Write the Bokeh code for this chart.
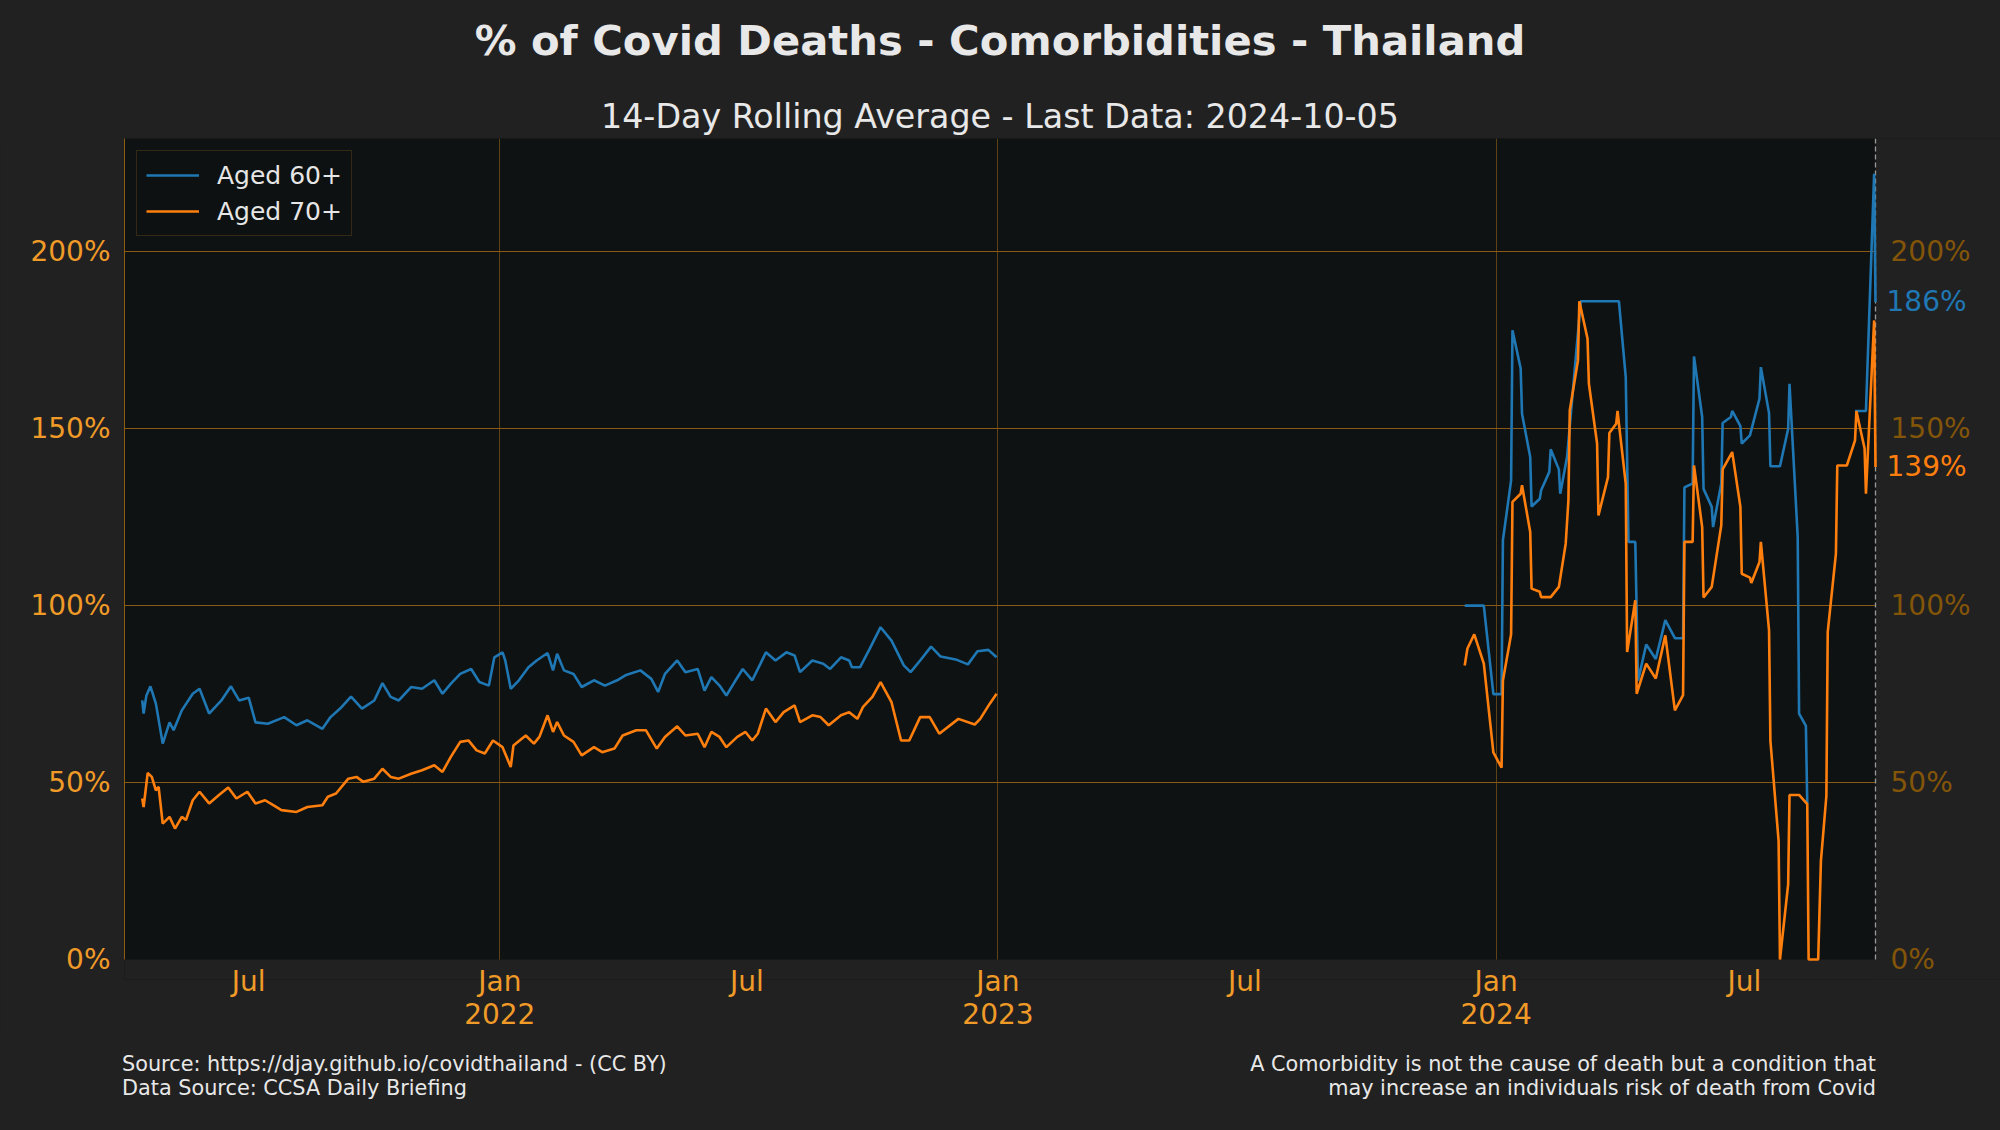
import numpy as np
import pandas as pd
from bokeh.plotting import figure
from bokeh.layouts import column
from bokeh.models import (Range1d, LinearAxis, FixedTicker, CustomJSTickFormatter,
                          PrintfTickFormatter, Legend, LegendItem, Div, Label,
                          BoxAnnotation)
from bokeh.embed import file_html
from bokeh.resources import INLINE

# ---------------- data ----------------
aged60_a_dates = ["2021-04-14", "2021-04-15", "2021-04-17", "2021-04-20", "2021-04-24", "2021-04-29",
    "2021-05-04", "2021-05-07", "2021-05-13", "2021-05-21", "2021-05-26", "2021-06-02", "2021-06-11",
    "2021-06-18", "2021-06-24", "2021-07-01", "2021-07-06", "2021-07-15", "2021-07-27", "2021-08-05",
    "2021-08-13", "2021-08-24", "2021-08-30", "2021-09-07", "2021-09-14", "2021-09-22", "2021-10-01",
    "2021-10-07", "2021-10-13", "2021-10-19", "2021-10-28", "2021-11-05", "2021-11-14", "2021-11-20",
    "2021-11-26", "2021-12-03", "2021-12-11", "2021-12-17", "2021-12-24", "2021-12-28", "2022-01-03",
    "2022-01-05", "2022-01-09", "2022-01-15", "2022-01-22", "2022-01-28", "2022-02-05", "2022-02-09",
    "2022-02-12", "2022-02-17", "2022-02-24", "2022-03-02", "2022-03-11", "2022-03-19", "2022-03-28",
    "2022-04-03", "2022-04-14", "2022-04-22", "2022-04-27", "2022-05-02", "2022-05-11", "2022-05-17",
    "2022-05-26", "2022-05-31", "2022-06-05", "2022-06-11", "2022-06-16", "2022-06-22", "2022-06-28",
    "2022-07-05", "2022-07-11", "2022-07-15", "2022-07-22", "2022-07-30", "2022-08-05", "2022-08-09",
    "2022-08-18", "2022-08-26", "2022-08-31", "2022-09-08", "2022-09-14", "2022-09-16", "2022-09-22",
    "2022-09-29", "2022-10-07", "2022-10-15", "2022-10-24", "2022-10-29", "2022-11-05", "2022-11-13",
    "2022-11-20", "2022-12-01", "2022-12-10", "2022-12-17", "2022-12-25", "2022-12-31"]
aged60_a_values = [73.2, 69.5, 74.5, 77.2, 72.3, 61.0, 67.0, 64.8, 70.4, 75.1, 76.5, 69.5, 73.2,
    77.2, 73.2, 74.0, 67.0, 66.6, 68.5, 66.2, 67.6, 65.2, 68.5, 71.3, 74.3, 70.9, 73.2,
    78.1, 74.2, 73.2, 77.0, 76.5, 78.9, 75.1, 77.9, 80.7, 82.1, 78.4, 77.4, 85.4, 86.8,
    84.5, 76.5, 78.9, 82.6, 84.5, 86.6, 81.7, 86.4, 81.7, 80.7, 77.0, 78.9, 77.4, 78.9,
    80.3, 81.7, 79.3, 75.6, 80.7, 84.5, 81.2, 82.1, 76.0, 79.8, 77.4, 74.6, 78.4, 82.1,
    78.9, 83.6, 86.8, 84.5, 86.8, 85.9, 81.2, 84.5, 83.6, 82.1, 85.4, 84.5, 82.6, 82.6,
    87.8, 93.9, 90.1, 83.1, 81.2, 84.5, 88.4, 85.6, 84.8, 83.4, 87.1, 87.5, 85.4]

aged60_b_dates = ["2023-12-09", "2023-12-23", "2023-12-30", "2024-01-05", "2024-01-06", "2024-01-12",
    "2024-01-13", "2024-01-19", "2024-01-20", "2024-01-26", "2024-01-27", "2024-02-02", "2024-02-03",
    "2024-02-09", "2024-02-10", "2024-02-16", "2024-02-17", "2024-02-22", "2024-03-03", "2024-03-31",
    "2024-04-05", "2024-04-07", "2024-04-12", "2024-04-14", "2024-04-20", "2024-04-27", "2024-05-04",
    "2024-05-11", "2024-05-17", "2024-05-18", "2024-05-24", "2024-05-25", "2024-05-31", "2024-06-01",
    "2024-06-07", "2024-06-08", "2024-06-14", "2024-06-15", "2024-06-21", "2024-06-22", "2024-06-28",
    "2024-06-29", "2024-07-05", "2024-07-12", "2024-07-13", "2024-07-19", "2024-07-20", "2024-07-27",
    "2024-08-02", "2024-08-03", "2024-08-09", "2024-08-10", "2024-08-15", "2024-08-16"]
aged60_b_values = [100.0, 100.0, 75.0, 75.0, 118.5, 135.4, 177.8, 167.0, 154.2, 142.0, 128.0, 130.2,
    132.6, 137.8, 144.2, 138.5, 131.6, 142.0, 186.0, 186.0, 164.6, 118.0, 118.0, 78.8, 89.0, 84.9,
    95.9, 90.8, 90.8, 133.4, 134.5, 170.4, 153.3, 133.0, 127.9, 122.2, 134.5, 151.6, 153.3, 155.0,
    150.7, 145.8, 148.1, 158.5, 167.4, 154.4, 139.4, 139.4, 150.0, 162.7, 119.4, 69.5, 66.0, 43.9]

aged60_c_dates = ["2024-09-20", "2024-09-28", "2024-10-04", "2024-10-05"]
aged60_c_values = [155.0, 155.0, 222.0, 185.8]

aged70_a_dates = ["2021-04-14", "2021-04-15", "2021-04-18", "2021-04-21", "2021-04-24", "2021-04-26",
    "2021-04-29", "2021-05-04", "2021-05-08", "2021-05-13", "2021-05-16", "2021-05-21", "2021-05-26",
    "2021-06-02", "2021-06-09", "2021-06-16", "2021-06-22", "2021-06-30", "2021-07-06", "2021-07-13",
    "2021-07-19", "2021-07-25", "2021-08-05", "2021-08-13", "2021-08-24", "2021-08-28", "2021-09-03",
    "2021-09-12", "2021-09-18", "2021-09-23", "2021-10-01", "2021-10-07", "2021-10-13", "2021-10-19",
    "2021-10-28", "2021-11-05", "2021-11-14", "2021-11-20", "2021-11-26", "2021-12-03", "2021-12-09",
    "2021-12-15", "2021-12-21", "2021-12-27", "2022-01-03", "2022-01-09", "2022-01-11", "2022-01-20",
    "2022-01-26", "2022-01-30", "2022-02-05", "2022-02-09", "2022-02-12", "2022-02-17", "2022-02-24",
    "2022-03-02", "2022-03-11", "2022-03-17", "2022-03-26", "2022-04-01", "2022-04-11", "2022-04-18",
    "2022-04-26", "2022-05-02", "2022-05-11", "2022-05-17", "2022-05-26", "2022-05-31", "2022-06-05",
    "2022-06-11", "2022-06-16", "2022-06-24", "2022-06-30", "2022-07-05", "2022-07-09", "2022-07-15",
    "2022-07-22", "2022-07-28", "2022-08-05", "2022-08-09", "2022-08-18", "2022-08-24", "2022-08-30",
    "2022-09-08", "2022-09-14", "2022-09-20", "2022-09-24", "2022-10-01", "2022-10-07", "2022-10-15",
    "2022-10-22", "2022-10-28", "2022-11-05", "2022-11-12", "2022-11-19", "2022-12-03", "2022-12-15",
    "2022-12-19", "2022-12-26", "2022-12-31"]
aged70_a_values = [45.5, 43.1, 52.7, 51.6, 47.8, 48.8, 38.4, 40.3, 37.0, 40.3, 39.4, 45.0, 47.4,
    44.1, 46.4, 48.6, 45.5, 47.4, 44.1, 45.0, 43.6, 42.2, 41.7, 43.1, 43.6, 46.0, 46.9,
    51.1, 51.6, 50.2, 51.1, 53.9, 51.6, 51.1, 52.5, 53.5, 54.9, 53.0, 57.2, 61.5, 61.9,
    59.1, 58.2, 61.9, 60.0, 54.4, 60.5, 63.3, 61.0, 62.9, 69.0, 64.3, 67.1, 63.3, 61.5,
    57.7, 60.0, 58.6, 59.6, 63.3, 64.8, 64.8, 59.6, 62.9, 65.9, 63.3, 63.8, 60.0, 64.3,
    62.9, 60.0, 62.9, 64.3, 61.9, 63.8, 70.9, 67.1, 69.9, 71.8, 67.1, 69.0, 68.5, 66.2,
    69.0, 69.9, 68.0, 71.3, 74.2, 78.4, 72.7, 61.9, 61.9, 68.5, 68.5, 63.8, 68.0, 66.4,
    68.0, 72.3, 75.1]

aged70_b_dates = ["2023-12-09", "2023-12-11", "2023-12-16", "2023-12-23", "2023-12-30", "2024-01-05",
    "2024-01-06", "2024-01-12", "2024-01-13", "2024-01-19", "2024-01-20", "2024-01-26", "2024-01-27",
    "2024-02-02", "2024-02-03", "2024-02-10", "2024-02-16", "2024-02-21", "2024-02-23", "2024-02-24",
    "2024-03-01", "2024-03-02", "2024-03-08", "2024-03-09", "2024-03-15", "2024-03-16", "2024-03-23",
    "2024-03-24", "2024-03-29", "2024-03-30", "2024-03-31", "2024-04-05", "2024-04-06", "2024-04-12",
    "2024-04-13", "2024-04-20", "2024-04-27", "2024-05-04", "2024-05-11", "2024-05-17", "2024-05-18",
    "2024-05-24", "2024-05-25", "2024-05-31", "2024-06-01", "2024-06-07", "2024-06-14", "2024-06-15",
    "2024-06-22", "2024-06-28", "2024-06-29", "2024-07-05", "2024-07-06", "2024-07-12", "2024-07-13",
    "2024-07-19", "2024-07-20", "2024-07-26", "2024-07-27", "2024-08-02", "2024-08-03", "2024-08-10",
    "2024-08-16", "2024-08-17", "2024-08-24", "2024-08-26", "2024-08-30", "2024-08-31", "2024-09-06",
    "2024-09-07", "2024-09-14", "2024-09-20", "2024-09-21", "2024-09-27", "2024-09-28", "2024-10-04",
    "2024-10-05"]
aged70_b_values = [83.1, 87.9, 91.9, 83.6, 58.5, 54.2, 78.8, 91.9, 129.3, 131.6, 134.0, 120.8, 104.8,
    103.9, 102.4, 102.4, 105.3, 117.5, 129.8, 155.2, 169.3, 186.0, 175.4, 162.7, 145.8, 125.5, 136.3,
    148.8, 151.4, 155.0, 151.4, 134.5, 86.9, 101.5, 75.1, 83.6, 79.4, 91.6, 70.4, 74.7, 118.0,
    118.0, 139.6, 122.2, 102.3, 105.3, 122.7, 138.5, 143.4, 127.9, 109.0, 107.9, 106.4, 112.3, 118.0,
    93.0, 61.8, 33.5, 0.0, 21.2, 46.5, 46.5, 43.9, 0.0, 0.0, 27.8, 46.2, 92.6, 114.7,
    139.6, 139.6, 146.7, 155.0, 144.4, 131.6, 180.6, 139.2]

x_tick_dates = ["2021-07-01", "2022-01-01", "2022-07-01", "2023-01-01", "2023-07-01", "2024-01-01", "2024-07-01"]
x_tick_labels = ["Jul", "Jan\n2022", "Jul", "Jan\n2023", "Jul", "Jan\n2024", "Jul"]
x_grid_dates = ["2022-01-01", "2023-01-01", "2024-01-01"]
y_ticks = [0, 50, 100, 150, 200]

x_start, x_end = "2021-04-01", "2024-10-05"
y_top = 232

series_labels = ["Aged 60+", "Aged 70+"]
series_colors = ["#1f77b4", "#ff7f0e"]

TITLE = "% of Covid Deaths - Comorbidities - Thailand"
SUBTITLE = "14-Day Rolling Average - Last Data: 2024-10-05"
FOOT_LEFT = ["Source: https://djay.github.io/covidthailand - (CC BY)", "Data Source: CCSA Daily Briefing"]
FOOT_RIGHT = ["A Comorbidity is not the cause of death but a condition that",
              "may increase an individuals risk of death from Covid"]


def join_segments(segments):
    xs, ys = [], []
    for i, (d, v) in enumerate(segments):
        if i > 0:
            xs.append(pd.Timestamp(d[0]) - pd.Timedelta(hours=12))
            ys.append(np.nan)
        xs.extend(pd.to_datetime(d))
        ys.extend(v)
    return xs, ys


x60, y60 = join_segments([(aged60_a_dates, aged60_a_values), (aged60_b_dates, aged60_b_values),
                          (aged60_c_dates, aged60_c_values)])
x70, y70 = join_segments([(aged70_a_dates, aged70_a_values), (aged70_b_dates, aged70_b_values)])

# ---------------- layout geometry ----------------
FONT = "DejaVu Sans"
PAGE_W, PAGE_H = 2000, 1130
HEAD_H, FOOT_H = 138, 91
W, H = PAGE_W, PAGE_H - HEAD_H - FOOT_H
ML, MT = 124, 0
DATA_RIGHT = 1875   # page x of the last date; the frame runs on to the page edge for the right labels
PLOT_H = 821        # height of the 0..y_top plot area
PAD_B = 20          # extra frame below 0 so the bottom right-hand label is not clipped
MB = H - MT - PLOT_H - PAD_B
BG = "#212121"
PLOT_BG = "#0e1212"

t0, t1 = pd.Timestamp(x_start), pd.Timestamp(x_end)
ext = (t1 - t0) * ((W - DATA_RIGHT) / (DATA_RIGHT - ML))
y_lo = -PAD_B * y_top / PLOT_H
p = figure(width=W, height=H, x_axis_type="datetime", output_backend="svg", toolbar_location=None,
           x_range=Range1d(t0, t1 + ext), y_range=Range1d(y_lo, y_top),
           min_border_left=ML, min_border_right=0, min_border_top=MT, min_border_bottom=MB,
           background_fill_color=PLOT_BG, border_fill_color=BG, outline_line_color=None)

last_ms = t1.value / 1e6
far_ms = (t1 + 3 * ext).value / 1e6
first_ms = (t0 - ext).value / 1e6
# page-coloured strips: after the last date and below 0 (drawn past the frame edges, clipped there)
p.add_layout(BoxAnnotation(left=last_ms, right=far_ms, bottom=3 * y_lo, top=2 * y_top,
                           fill_color=BG, fill_alpha=1.0, line_color=None, level="underlay"))
p.add_layout(BoxAnnotation(left=first_ms, right=far_ms, bottom=3 * y_lo, top=0,
                           fill_color=BG, fill_alpha=1.0, line_color=None, level="underlay"))

# last data marker
p.segment(x0=[t1], y0=[0], x1=[t1], y1=[y_top], line_color="#9a9a9a", line_dash="5 3", line_width=1.3)

r60 = p.line(x=x60, y=y60, line_color=series_colors[0], line_width=2.6)
r70 = p.line(x=x70, y=y70, line_color=series_colors[1], line_width=2.6)

# x axis
tick_ms = [pd.Timestamp(d).value / 1e6 for d in x_tick_dates]
xa = p.xaxis[0]
xa.ticker = FixedTicker(ticks=tick_ms)
xa.formatter = CustomJSTickFormatter(args=dict(tvals=tick_ms, tlabels=x_tick_labels), code="""
    let best = 0, bd = Infinity;
    for (let i = 0; i < tvals.length; i++) {
        const dd = Math.abs(tvals[i] - tick);
        if (dd < bd) { bd = dd; best = i; }
    }
    return tlabels[best];
""")
xa.major_label_text_font = FONT
xa.major_label_text_font_size = "28px"
xa.major_label_text_color = "#f09a28"
xa.major_label_text_line_height = 1.0
xa.major_label_standoff = -1 - PAD_B
xa.major_tick_line_color = None
xa.minor_tick_line_color = None
xa.axis_line_color = None

# left y axis
ya = p.yaxis[0]
ya.ticker = FixedTicker(ticks=y_ticks)
ya.formatter = PrintfTickFormatter(format="%d%%")
ya.bounds = (0, y_top)
ya.major_label_text_font = FONT
ya.major_label_text_font_size = "28px"
ya.major_label_text_color = "#f09a28"
ya.major_label_standoff = 8
ya.major_tick_line_color = None
ya.minor_tick_line_color = None
ya.axis_line_color = "#8c5c12"

# right y axis, pinned at the last date
yr = LinearAxis(fixed_location=last_ms, ticker=FixedTicker(ticks=y_ticks),
                formatter=PrintfTickFormatter(format="%d%%"),
                major_label_text_font=FONT, major_label_text_font_size="28px",
                major_label_text_color="#835509", major_label_standoff=9,
                major_tick_line_color=None, minor_tick_line_color=None, axis_line_color=None)
p.add_layout(yr, "right")

# grids
p.xgrid.ticker = FixedTicker(ticks=[pd.Timestamp(d).value / 1e6 for d in x_grid_dates])
p.xgrid.grid_line_color = "#5e4216"
p.xgrid.grid_line_width = 1
p.ygrid.ticker = FixedTicker(ticks=y_ticks[1:])
p.ygrid.grid_line_color = "#8a5a14"
p.ygrid.grid_line_width = 1

# last values
last_vals = [y60[-1], y70[-1]]
for val, col in zip(last_vals, series_colors):
    p.add_layout(Label(x=last_ms, y=val, text=f"{val:.0f}%", x_offset=11,
                       text_baseline="middle", text_align="left", text_font=FONT,
                       text_font_size="28px", text_color=col))

# legend
legend = Legend(items=[LegendItem(label=series_labels[0], renderers=[r60]),
                       LegendItem(label=series_labels[1], renderers=[r70])],
                location="top_left", margin=12, padding=9, spacing=6,
                glyph_width=53, glyph_height=30, label_standoff=18, label_height=30,
                label_text_font=FONT, label_text_font_size="25px", label_text_color="#e6e6e6",
                background_fill_color=PLOT_BG, background_fill_alpha=0.95,
                border_line_color="#5c4118", border_line_width=1.5)
p.add_layout(legend)

# header and footer texts
TXT = "font-family:'DejaVu Sans';color:#e8e8e8;white-space:nowrap;position:absolute;"
header = Div(text=(
    f'<div style="position:relative;width:{PAGE_W}px;height:{HEAD_H}px;">'
    f'<div style="{TXT}left:0;top:20px;width:{PAGE_W}px;text-align:center;font-weight:bold;'
    f'font-size:41.7px;line-height:41.7px;">{TITLE}</div>'
    f'<div style="{TXT}left:0;top:100px;width:{PAGE_W}px;text-align:center;'
    f'font-size:33.3px;line-height:33.3px;">{SUBTITLE}</div></div>'),
    width=PAGE_W, height=HEAD_H, margin=0, styles={"background-color": BG})

footer = Div(text=(
    f'<div style="position:relative;width:{PAGE_W}px;height:{FOOT_H}px;">'
    f'<div style="{TXT}left:122px;top:13px;text-align:left;font-size:20.8px;line-height:24px;">'
    f'{FOOT_LEFT[0]}<br>{FOOT_LEFT[1]}</div>'
    f'<div style="{TXT}right:124px;top:13px;text-align:right;font-size:20.8px;line-height:24px;">'
    f'{FOOT_RIGHT[0]}<br>{FOOT_RIGHT[1]}</div></div>'),
    width=PAGE_W, height=FOOT_H, margin=0, styles={"background-color": BG})

layout = column(header, p, footer, spacing=0, styles={"background-color": BG})

open("out.html", "w").write(file_html(layout, INLINE))
